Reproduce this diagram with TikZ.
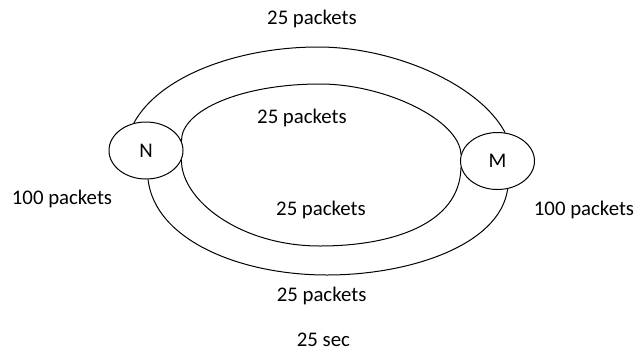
\documentclass[tikz,border=0pt]{standalone}
\usepackage{fontspec}
\setmainfont{Carlito}
\usetikzlibrary{shapes.geometric}
\begin{document}
\begin{tikzpicture}[x=1pt,y=-1pt,
  station/.style={ellipse,draw,line width=1pt,minimum width=74pt,minimum height=57pt,inner sep=0pt,font=\fontsize{20.8}{24}\selectfont},
  lbl/.style={anchor=base,inner sep=0pt,font=\fontsize{20.8}{24}\selectfont},
  link/.style={line width=1pt}]
\useasboundingbox (0,0) rectangle (636,351);
\node[station] (N) at (146,150.5) {N};
\node[station] (M) at (497.5,161) {M};
% outer ring
\draw[link] (N.114) .. controls (160,75) and (240,47) .. (318,47) .. controls (395,47) and (480,85) .. (M.75);
\draw[link] (N.274) .. controls (155,240) and (240,275) .. (327,275) .. controls (410,275) and (500,245) .. (M.290);
% inner ring
\draw[link] (N.15) .. controls (181,110) and (242,84) .. (320,84) .. controls (385,84) and (460,120) .. (M.170);
\draw[link] (N.-15) .. controls (181,200) and (240,246) .. (320,246) .. controls (390,246) and (460,225) .. (M.190);
% labels
\node[lbl] (t1) at (312,24.5) {25 packets};
\node[lbl] (t2) at (302,123) {25 packets};
\node[lbl] (t3) at (62,204.5) {100 packets};
\node[lbl] (t4) at (321,215.5) {25 packets};
\node[lbl] (t5) at (584,215.5) {100 packets};
\node[lbl] (t6) at (321.6,301.7) {25 packets};
\node[lbl] (t7) at (323.4,346) {25 sec};
\end{tikzpicture}
\end{document}
